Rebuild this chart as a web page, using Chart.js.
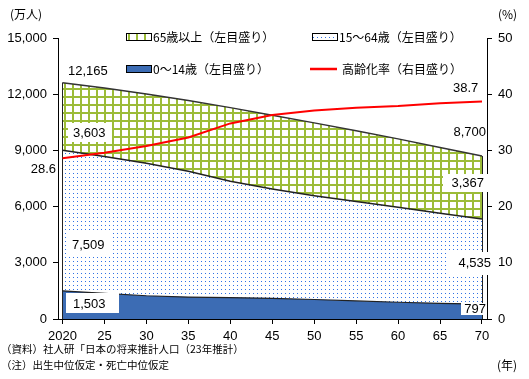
<!DOCTYPE html>
<html><head><meta charset="utf-8">
<script src="https://cdn.jsdelivr.net/npm/chart.js@4.4.1/dist/chart.umd.min.js"></script>
<style>html,body{margin:0;padding:0;background:#fff}#wrap{position:relative;width:529px;height:379px}</style>
</head><body><div id="wrap"><canvas id="c" width="529" height="379"></canvas></div>
<script>
// ---- data (万人, %) ----
const years = [2020, 2025, 2030, 2035, 2040, 2045, 2050, 2055, 2060, 2065, 2070];
const age0_14 = [1503, 1363, 1240, 1169, 1142, 1103, 1041, 966, 893, 836, 797];
const age15_64 = [7509, 7310, 7076, 6722, 6213, 5832, 5540, 5307, 5078, 4809, 4535];
const age65plus = [3603, 3653, 3696, 3773, 3928, 3945, 3888, 3778, 3644, 3513, 3367];
const agingRate = [28.6, 29.6, 30.8, 32.3, 34.8, 36.3, 37.1, 37.6, 37.9, 38.4, 38.7];
const leftTicks = [0, 3000, 6000, 9000, 12000, 15000];
const rightTicks = [0, 10, 20, 30, 40, 50];
const xTickYears = [2020, 2025, 2030, 2035, 2040, 2045, 2050, 2055, 2060, 2065, 2070];
const xTickLabels = ['2020', '25', '30', '35', '40', '45', '50', '55', '60', '65', '70'];
const seriesNames = ['65歳以上（左目盛り）', '15～64歳（左目盛り）', '0～14歳（左目盛り）', '高齢化率（右目盛り）'];
const totalLabel2020 = '12,165';
const totalLabel2070 = '8,700';
const notes = ['（資料）社人研「日本の将来推計人口（23年推計）', '（注）出生中位仮定・死亡中位仮定'];

const NUM_FONT = '"Liberation Sans", Arial, sans-serif';
const JP_FONT = '"Noto Sans CJK JP", sans-serif';

const cv = document.getElementById('c');
const ctx0 = cv.getContext('2d');
function makeGrid() {
  const c = document.createElement('canvas'); c.width = 8; c.height = 8;
  const g = c.getContext('2d');
  g.fillStyle = '#fff'; g.fillRect(0, 0, 8, 8);
  g.fillStyle = '#9cbc38'; g.fillRect(0, 0, 2, 8); g.fillRect(0, 0, 8, 2);
  return ctx0.createPattern(c, 'repeat');
}
function makeDots() {
  const c = document.createElement('canvas'); c.width = 4; c.height = 4;
  const g = c.getContext('2d');
  g.fillStyle = '#fff'; g.fillRect(0, 0, 4, 4);
  g.fillStyle = '#2f72e6'; g.fillRect(1, 1, 1, 1);
  return ctx0.createPattern(c, 'repeat');
}
const gridPat = makeGrid();
const dotPat = makeDots();
const BLUE = '#3c6cb4';

const pts = arr => years.map((y, i) => ({x: y, y: arr[i]}));

const overlay = {
  id: 'overlay',
  afterDatasetDraw(chart, args) {
    if (args.index !== 1) return;
    const ctx = chart.ctx, xs = chart.scales.x, ys = chart.scales.y;
    ctx.save(); ctx.strokeStyle = '#222'; ctx.lineWidth = 1;
    [0, years.length - 1].forEach(i => {
      const px = Math.round(xs.getPixelForValue(years[i])) + 0.5;
      const top = ys.getPixelForValue(age0_14[i] + age15_64[i] + age65plus[i]);
      ctx.beginPath(); ctx.moveTo(px, ys.getPixelForValue(0)); ctx.lineTo(px, top); ctx.stroke();
    });
    ctx.restore();
  },
  afterDraw(chart) {
    const ctx = chart.ctx;
    ctx.save();
    // legend
    const box = (x, y, w, h, fill) => {
      ctx.fillStyle = fill; ctx.fillRect(x, y, w, h);
      ctx.strokeStyle = '#000'; ctx.lineWidth = 1; ctx.strokeRect(x + 0.5, y + 0.5, w, h);
    };
    box(126, 33, 25, 7, gridPat);
    box(312, 33, 25, 7, dotPat);
    box(126, 65, 25, 7, BLUE);
    ctx.strokeStyle = '#ff0000'; ctx.lineWidth = 2.5;
    ctx.beginPath(); ctx.moveTo(310, 69); ctx.lineTo(337, 69); ctx.stroke();
    ctx.fillStyle = '#000'; ctx.textBaseline = 'middle'; ctx.textAlign = 'left';
    ctx.font = '12px ' + JP_FONT;
    ctx.fillText(seriesNames[0], 153, 37);
    ctx.fillText(seriesNames[1], 339, 37);
    ctx.fillText(seriesNames[2], 153, 69);
    ctx.fillText(seriesNames[3], 342, 69);
    // units
    ctx.font = '12px ' + JP_FONT;
    ctx.fillText('(万人)', 10, 14);
    ctx.fillText('(%)', 498, 14);
    ctx.fillText('(年)', 497, 365);
    // notes
    ctx.font = '10.5px ' + JP_FONT;
    ctx.fillText(notes[0], 1, 349);
    ctx.fillText(notes[1], 1, 365);
    // value labels
    ctx.font = '13px ' + NUM_FONT;
    const lab = (t, x, y, align, b) => {
      if (b) { ctx.fillStyle = '#fff'; ctx.fillRect(b[0], b[1], b[2] - b[0], b[3] - b[1]); }
      ctx.fillStyle = '#000'; ctx.textAlign = align; ctx.fillText(t, x, y);
    };
    const fmt = v => v.toLocaleString('en-US');
    const n = years.length - 1;
    lab(totalLabel2020, 68, 71, 'left');
    lab(fmt(age65plus[0]), 73, 133, 'left', [68, 123, 112, 142]);
    lab(agingRate[0].toFixed(1), 56, 169, 'right');
    lab(fmt(age15_64[0]), 72, 245, 'left', [67, 233, 112, 257]);
    lab(fmt(age0_14[0]), 73, 304, 'left', [66, 293, 119, 313]);
    lab(agingRate[n].toFixed(1), 453, 88, 'left');
    lab(totalLabel2070, 486, 132, 'right');
    lab(fmt(age65plus[n]), 484, 183, 'right', [443, 174, 488, 192]);
    lab(fmt(age15_64[n]), 491, 263, 'right', [449, 252, 493, 275]);
    lab(fmt(age0_14[n]), 486, 309, 'right', [461, 303, 487, 315]);
    ctx.restore();
  }
};

new Chart(cv, {
  type: 'line',
  data: {
    datasets: [
      {label: seriesNames[3], data: pts(agingRate), yAxisID: 'y1', borderColor: '#ff0000', borderWidth: 2, pointRadius: 0, fill: false, tension: 0},
      {label: seriesNames[2], data: pts(age0_14), yAxisID: 'y', backgroundColor: BLUE, borderColor: '#222', borderWidth: 1.2, pointRadius: 0, fill: 'origin', tension: 0},
      {label: seriesNames[1], data: pts(age15_64), yAxisID: 'y', backgroundColor: dotPat, borderColor: '#222', borderWidth: 1.5, pointRadius: 0, fill: 1, tension: 0},
      {label: seriesNames[0], data: pts(age65plus), yAxisID: 'y', backgroundColor: gridPat, borderColor: '#333', borderWidth: 1.5, pointRadius: 0, fill: 2, tension: 0}
    ]
  },
  options: {
    responsive: false, animation: false, devicePixelRatio: 1,
    layout: {padding: {top: 38, left: 0, right: 0, bottom: 0}},
    plugins: {legend: {display: false}, tooltip: {enabled: false}},
    scales: {
      x: {
        type: 'linear', min: 2019.464, max: 2070.596,
        afterFit(s) { s.height = 60; },
        afterBuildTicks(s) { s.ticks = xTickYears.map(v => ({value: v})); },
        ticks: {autoSkip: false, maxRotation: 0, padding: 5, color: '#000', font: {family: NUM_FONT, size: 13},
          callback: (v, i) => xTickLabels[i]},
        grid: {drawOnChartArea: false, drawTicks: true, tickLength: 5, color: '#000'},
        border: {color: '#000', width: 1}
      },
      y: {
        position: 'left', stacked: true, min: 0, max: 15000,
        afterFit(s) { s.width = 58; },
        afterBuildTicks(s) { s.ticks = leftTicks.map(v => ({value: v})); },
        ticks: {padding: 6, color: '#000', font: {family: NUM_FONT, size: 13}, callback: v => v.toLocaleString('en-US')},
        grid: {drawOnChartArea: false, drawTicks: true, tickLength: 5, color: '#000'},
        border: {color: '#000', width: 1}
      },
      y1: {
        position: 'right', min: 0, max: 50,
        afterFit(s) { s.width = 42; },
        afterBuildTicks(s) { s.ticks = rightTicks.map(v => ({value: v})); },
        ticks: {padding: 6, color: '#000', font: {family: NUM_FONT, size: 13}},
        grid: {drawOnChartArea: false, drawTicks: true, tickLength: 5, color: '#000'},
        border: {color: '#000', width: 1}
      }
    }
  },
  plugins: [overlay]
});
</script></body></html>
